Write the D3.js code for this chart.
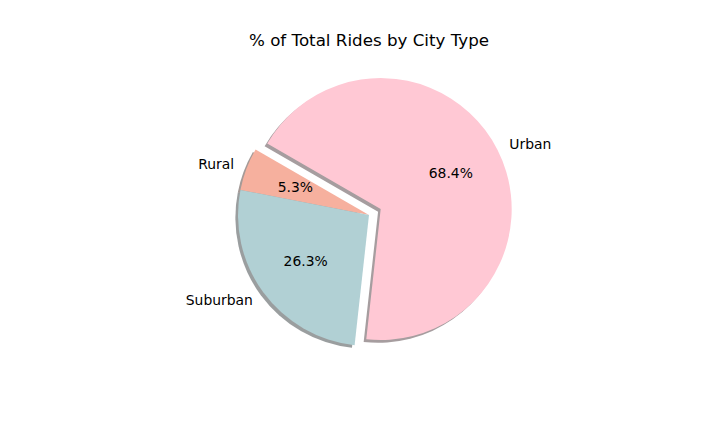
<!DOCTYPE html>
<html>
<head>
<meta charset="utf-8">
<script src="https://cdn.jsdelivr.net/npm/d3@7"></script>
<style>
  body { margin: 0; background: #fff; }
  text { font-family: "DejaVu Sans", sans-serif; fill: #000; }
</style>
</head>
<body>
<svg id="chart" width="720" height="432" viewBox="0 0 720 432"></svg>
<script>
// ride counts per city type
var cityTypes = ["Rural", "Suburban", "Urban"];
var rideCounts = [125, 625, 1625];
var explode = [0, 0, 0.1];
var sliceColors = ["#f6b09e", "#b1d0d4", "#ffc8d4"];

var svg = d3.select("#chart"),
    cx = 369, cy = 215, r = 131;

// data coords (pie radius = 1) -> pixels, like a matplotlib axes with equal aspect
var x = d3.scaleLinear().domain([-1.25, 1.25]).range([cx - 1.25 * r, cx + 1.25 * r]);
var y = d3.scaleLinear().domain([-1.25, 1.25]).range([cy + 1.25 * r, cy - 1.25 * r]);
var rad = d3.scaleLinear().domain([0, 1]).range([0, r]);

var total = d3.sum(rideCounts);
var data = cityTypes.map(function(c, i) {
    return {type: c, value: rideCounts[i], explode: explode[i], color: sliceColors[i]};
});

// start at 150deg (counter clockwise from east), go counter clockwise
var start = (90 - 150) * Math.PI / 180;
var pie = d3.pie().sort(null).value(function(d) { return d.value; })
    .startAngle(start).endAngle(start - 2 * Math.PI);
var arcs = pie(data);

var arc = d3.arc().innerRadius(0).outerRadius(rad(1));

function mid(d) { return (d.startAngle + d.endAngle) / 2; }
// point at distance k (data units) along the bisector, including explode offset
function pos(d, k) {
    var a = mid(d), e = d.data.explode;
    return [x((e + k) * Math.sin(a)), y((e + k) * Math.cos(a))];
}

// shadows first (matplotlib Shadow offset -0.02, -0.02)
svg.append("g").selectAll("path").data(arcs).enter().append("path")
    .attr("d", arc)
    .attr("transform", function(d) {
        var p = pos(d, 0);
        return "translate(" + (p[0] + rad(-0.02)) + "," + (p[1] + rad(0.02)) + ")";
    })
    .attr("fill", function(d) {
        var c = d3.rgb(d.data.color);
        return d3.rgb(c.r * 0.3, c.g * 0.3, c.b * 0.3);
    })
    .attr("fill-opacity", 0.5);

svg.append("g").selectAll("path").data(arcs).enter().append("path")
    .attr("d", arc)
    .attr("transform", function(d) {
        var p = pos(d, 0);
        return "translate(" + p[0] + "," + p[1] + ")";
    })
    .attr("fill", function(d) { return d.data.color; });

// labels at 1.1 radius
svg.append("g").selectAll("text").data(arcs).enter().append("text")
    .attr("x", function(d) { return pos(d, 1.1)[0]; })
    .attr("y", function(d) { return pos(d, 1.1)[1]; })
    .attr("dy", "0.35em")
    .attr("text-anchor", function(d) { return Math.sin(mid(d)) > 0 ? "start" : "end"; })
    .style("font-size", "13.9px")
    .text(function(d) { return d.data.type; });

// percentages at 0.6 radius
svg.append("g").selectAll("text").data(arcs).enter().append("text")
    .attr("x", function(d) { return pos(d, 0.6)[0]; })
    .attr("y", function(d) { return pos(d, 0.6)[1]; })
    .attr("dy", "0.35em")
    .attr("text-anchor", "middle")
    .style("font-size", "13.9px")
    .text(function(d) { return (d.value / total * 100).toFixed(1) + "%"; });

svg.append("text")
    .attr("x", 369)
    .attr("y", 46)
    .attr("text-anchor", "middle")
    .style("font-size", "16.7px")
    .text("% of Total Rides by City Type");
</script>
</body>
</html>
